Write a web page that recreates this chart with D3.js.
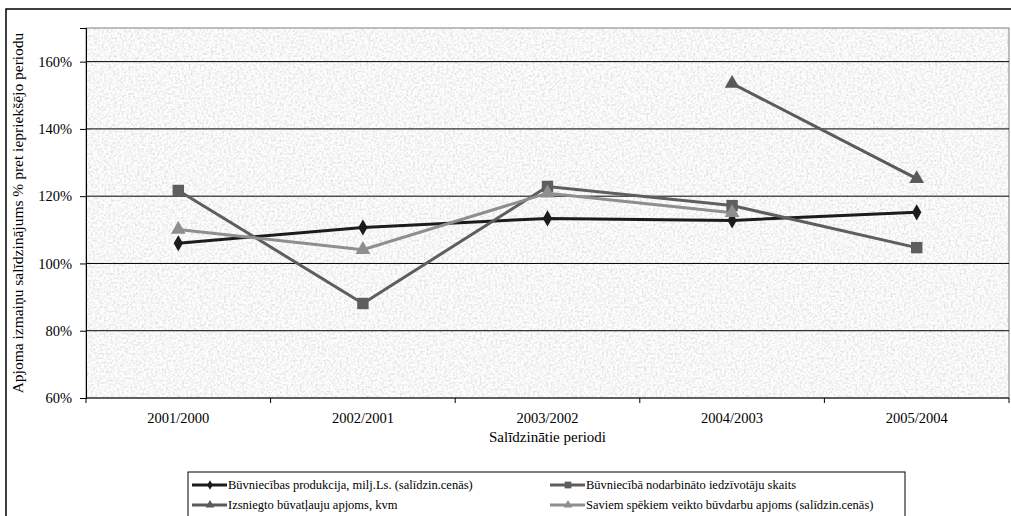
<!DOCTYPE html>
<html lang="lv">
<head>
<meta charset="UTF-8">
<script src="https://d3js.org/d3.v7.min.js"></script>
<style>
  body { margin: 0; background: #fff; }
</style>
</head>
<body>
<svg id="chart" width="1011" height="516"></svg>
<script>
// data
const periods = ["2001/2000", "2002/2001", "2003/2002", "2004/2003", "2005/2004"];
const yTicks = [0.6, 0.8, 1.0, 1.2, 1.4, 1.6];

const producija = [1.06, 1.107, 1.134, 1.128, 1.152];
const nodarbinatie = [1.217, 0.881, 1.229, 1.172, 1.047];
const atlaujas = [null, null, null, 1.535, 1.252];
const pasuSpekiem = [1.101, 1.041, 1.209, 1.151, null];

const series = [
  { name: "Būvniecības produkcija, milj.Ls. (salīdzin.cenās)", values: producija, color: "#1c1c1c", symbol: d3.symbolDiamond, size: 75 },
  { name: "Būvniecībā nodarbināto iedzīvotāju skaits", values: nodarbinatie, color: "#5e5e5e", symbol: d3.symbolSquare, size: 130 },
  { name: "Izsniegto būvatļauju apjoms, kvm", values: atlaujas, color: "#5a5a5a", symbol: d3.symbolTriangle, size: 95 },
  { name: "Saviem spēkiem veikto būvdarbu apjoms (salīdzin.cenās)", values: pasuSpekiem, color: "#8e8e8e", symbol: d3.symbolTriangle, size: 95 }
];

const FONT = "'Liberation Serif', 'DejaVu Serif', serif";

const svg = d3.select("#chart");
const plotL = 86, plotR = 1009, plotT = 28, plotB = 398;

const x = d3.scaleBand().domain(periods).range([plotL, plotR]);
const y = d3.scaleLinear().domain([0.6, 1.7]).range([plotB, plotT]);

// outer frame
svg.append("rect")
  .attr("x", 6).attr("y", 9).attr("width", 1030).attr("height", 530)
  .attr("fill", "none").attr("stroke", "#000").attr("stroke-width", 1.5);

// textured plot background
const defs = svg.append("defs");
const f = defs.append("filter").attr("id", "grain")
  .attr("x", 0).attr("y", 0).attr("width", "100%").attr("height", "100%");
f.append("feTurbulence").attr("type", "fractalNoise")
  .attr("baseFrequency", 0.45).attr("numOctaves", 3).attr("seed", 4);
f.append("feColorMatrix").attr("type", "matrix")
  .attr("values", "0.55 0 0 0 0.65  0.55 0 0 0 0.65  0.55 0 0 0 0.65  0 0 0 0 1");

svg.append("rect")
  .attr("x", plotL).attr("y", plotT).attr("width", plotR - plotL).attr("height", plotB - plotT)
  .attr("fill", "#e8e8e8");
svg.append("rect")
  .attr("x", plotL).attr("y", plotT).attr("width", plotR - plotL).attr("height", plotB - plotT)
  .attr("filter", "url(#grain)");
svg.append("rect")
  .attr("x", plotL).attr("y", plotT).attr("width", plotR - plotL).attr("height", plotB - plotT)
  .attr("fill", "none").attr("stroke", "#808080").attr("stroke-width", 1);

// gridlines
svg.append("g").selectAll("line")
  .data(yTicks.slice(1))
  .join("line")
  .attr("x1", plotL).attr("x2", plotR)
  .attr("y1", d => y(d)).attr("y2", d => y(d))
  .attr("stroke", "#000").attr("stroke-width", 1);

// y axis
const yAxis = svg.append("g")
  .attr("transform", "translate(" + plotL + ",0)")
  .call(d3.axisLeft(y).tickValues(yTicks).tickFormat(d3.format(".0%")).tickSize(6).tickPadding(8));
yAxis.attr("font-family", null).attr("font-size", null);
yAxis.select(".domain").attr("stroke", "#000");
yAxis.selectAll("text").attr("fill", "#000").style("font-size", "14.5px").style("font-family", FONT);

// x axis with ticks between categories
const xAxis = svg.append("g").attr("transform", "translate(0," + plotB + ")");
xAxis.append("line").attr("x1", plotL).attr("x2", plotR).attr("stroke", "#000");
xAxis.selectAll(".tk")
  .data(periods.concat(["end"]))
  .join("line")
  .attr("class", "tk")
  .attr("x1", (d, i) => plotL + i * x.bandwidth())
  .attr("x2", (d, i) => plotL + i * x.bandwidth())
  .attr("y1", 0).attr("y2", 5).attr("stroke", "#000");
xAxis.selectAll("text")
  .data(periods)
  .join("text")
  .attr("x", d => x(d) + x.bandwidth() / 2)
  .attr("y", 25)
  .attr("text-anchor", "middle")
  .style("font-size", "14.5px").style("font-family", FONT)
  .text(d => d);

// axis titles
svg.append("text")
  .attr("x", (plotL + plotR) / 2).attr("y", 442)
  .attr("text-anchor", "middle")
  .style("font-size", "15px").style("font-family", FONT)
  .text("Salīdzinātie periodi");
svg.append("text")
  .attr("transform", "translate(23," + ((plotT + plotB) / 2) + ") rotate(-90)")
  .attr("text-anchor", "middle")
  .style("font-size", "15.5px").style("font-family", FONT)
  .text("Apjoma izmaiņu salīdzinājums % pret iepriekšējo periodu");

// lines and markers
const line = d3.line()
  .defined(d => d != null)
  .x((d, i) => x(periods[i]) + x.bandwidth() / 2)
  .y(d => y(d));

series.forEach(s => {
  svg.append("path")
    .attr("d", line(s.values))
    .attr("fill", "none")
    .attr("stroke", s.color)
    .attr("stroke-width", 3);
});
series.forEach(s => {
  svg.append("g").selectAll("path")
    .data(s.values.map((v, i) => ({ v, i })).filter(d => d.v != null))
    .join("path")
    .attr("transform", d => "translate(" + (x(periods[d.i]) + x.bandwidth() / 2) + "," + y(d.v) + ")")
    .attr("d", d3.symbol().type(s.symbol).size(s.size))
    .attr("fill", s.color);
});

// legend
const lg = svg.append("g");
lg.append("rect")
  .attr("x", 188).attr("y", 472).attr("width", 717).attr("height", 60)
  .attr("fill", "#fff").attr("stroke", "#000").attr("stroke-width", 1);
const legPos = [[192, 485], [550, 485], [192, 505], [550, 505]];
series.forEach((s, i) => {
  const [lx, ly] = legPos[i];
  lg.append("line")
    .attr("x1", lx).attr("x2", lx + 35).attr("y1", ly).attr("y2", ly)
    .attr("stroke", s.color).attr("stroke-width", 3);
  lg.append("path")
    .attr("transform", "translate(" + (lx + 18) + "," + ly + ")")
    .attr("d", d3.symbol().type(s.symbol).size(s.size * 0.35))
    .attr("fill", s.color);
  lg.append("text")
    .attr("x", lx + 36).attr("y", ly + 4)
    .style("font-size", "12.5px").style("font-family", FONT)
    .text(s.name);
});
</script>
</body>
</html>
